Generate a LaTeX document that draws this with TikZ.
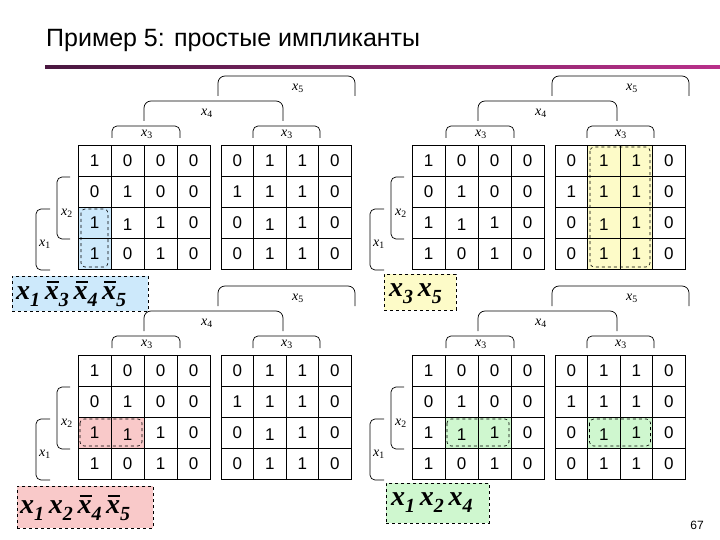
\documentclass[tikz,border=0pt]{standalone}
\usepackage{fontspec}
\setmainfont{Liberation Serif}
\newfontfamily\arial{Liberation Sans}
\begin{document}
\begin{tikzpicture}[x=1pt,y=-1pt,
  brk/.style={line width=0.7pt,rounded corners=7pt},
  cellline/.style={line width=0.8pt},
  hl/.style={dashed,line width=0.6pt,rounded corners=4pt},
  lbl/.style={font=\fontsize{14}{14}\selectfont,inner sep=0pt},
  dig/.style={font=\arial\fontsize{17}{17}\selectfont,inner sep=0pt},
  impbox/.style={draw,dashed,line width=0.6pt,anchor=north west,inner sep=0pt,font=\fontsize{28}{28}\selectfont\bfseries\itshape}]
\useasboundingbox (0,0) rectangle (720,540);
\definecolor{hblue}{HTML}{CDE9FB}
\definecolor{hyel}{HTML}{FDFBC8}
\definecolor{hpink}{HTML}{F9C9C9}
\definecolor{hgreen}{HTML}{CFF7CF}
\definecolor{tlA}{HTML}{4A1840}
\definecolor{tlB}{HTML}{B8308A}
\newcommand\xv[1]{\textit{x}\textsubscript{#1}}
\newcommand\xbv[1]{\textbf{\textit{x}}\raisebox{-0.25em}{\fontsize{20}{20}\selectfont\bfseries #1}}
\newcommand\xbb[1]{\rlap{\hspace{0.08em}\raisebox{0.62em}{\rule{0.42em}{1.6pt}}}\textbf{\textit{x}}\raisebox{-0.25em}{\fontsize{20}{20}\selectfont\bfseries #1}}
\newcommand\kmap[3]{%
\begin{scope}[shift={(#1,#2)}]
 #3
 \foreach \c in {0,...,3}{\foreach \r in {0,...,3}{
   \draw[cellline] ({78+33*\c},{145+31*\r}) rectangle ++(33,31);
   \draw[cellline] ({221+32.5*\c},{145+31*\r}) rectangle ++(32.5,31);}}
 \foreach \v [count=\i from 0] in {1,0,0,0,0,1,0,0,1,1,1,0,1,0,1,0}{
   \pgfmathtruncatemacro\r{int(\i/4)}\pgfmathtruncatemacro\c{mod(\i,4)}
   \pgfmathsetmacro\dy{(\r==2 && \c==1) ? 2 : 0}
   \node[dig] (L\i) at ({94.5+33*\c},{161+31*\r+\dy}) {\v};}
 \foreach \v [count=\i from 0] in {0,1,1,0,1,1,1,0,0,1,1,0,0,1,1,0}{
   \pgfmathtruncatemacro\r{int(\i/4)}\pgfmathtruncatemacro\c{mod(\i,4)}
   \pgfmathsetmacro\dy{(\r==2 && \c==1) ? 2 : 0}
   \node[dig] (R\i) at ({237.25+32.5*\c},{161+31*\r+\dy}) {\v};}
 \draw[brk] (218,96)--(218,76)--(355,76)--(355,96);
 \node[lbl] (l5) at (298,88) {\xv{5}};
 \draw[brk] (144,121)--(144,101)--(283,101)--(283,121);
 \node[lbl] (l4) at (207,113) {\xv{4}};
 \draw[brk,rounded corners=5pt] (112,138)--(112,126)--(180,126)--(180,138);
 \node[lbl] (l3a) at (147,134) {\xv{3}};
 \draw[brk,rounded corners=5pt] (253,138)--(253,126)--(320,126)--(320,138);
 \node[lbl] (l3b) at (287,134) {\xv{3}};
 \draw[brk,rounded corners=5pt] (70,177)--(57,177)--(57,239)--(70,239);
 \node[lbl] (l2) at (67,213) {\xv{2}};
 \draw[brk,rounded corners=5pt] (50,209)--(36,209)--(36,270)--(50,270);
 \node[lbl] (l1) at (45,244) {\xv{1}};
\end{scope}}
% title
\node[anchor=west,inner sep=0pt,font=\arial\fontsize{25}{25}\selectfont] (title) at (46,40) {Пример 5: простые импликанты};
\shade[left color=tlA,right color=tlB] (45,65.5) rectangle (720,68.5);
% maps
\kmap{0}{0}{\fill[hblue] (78,207) rectangle (111,269);
  \draw[hl] (81,209) rectangle (108,267);}
\kmap{334}{0}{\fill[hyel] (253.5,145) rectangle (318.5,269);
  \draw[hl] (256,147) rectangle (316,267);}
\kmap{0}{210}{\fill[hpink] (78,207) rectangle (144,238);
  \draw[hl] (80,209) rectangle (142,236);}
\kmap{334}{210}{\fill[hgreen] (111,207) rectangle (177,238);
  \draw[hl] (113,209) rectangle (175,236);
  \fill[hgreen] (253.5,207) rectangle (318.5,238);
  \draw[hl] (255.5,209) rectangle (316.5,236);}
% implicant boxes
\node[impbox,fill=hblue,minimum width=136,minimum height=35] (b1) at (12,276) {};
\node[anchor=west,inner sep=0pt,font=\fontsize{28}{28}\selectfont\bfseries\itshape] (t1) at (16,294) {\xbv{1}\,\xbb{3}\,\xbb{4}\,\xbb{5}};
\node[impbox,fill=hyel,minimum width=72,minimum height=36] (b2) at (384,274) {};
\node[anchor=west,inner sep=0pt,font=\fontsize{28}{28}\selectfont\bfseries\itshape] (t2) at (389,294) {\xbv{3}\,\xbv{5}};
\node[impbox,fill=hpink,minimum width=136,minimum height=42] (b3) at (17,486) {};
\node[anchor=west,inner sep=0pt,font=\fontsize{28}{28}\selectfont\bfseries\itshape] (t3) at (20,508) {\xbv{1}\,\xbv{2}\,\xbb{4}\,\xbb{5}};
\node[impbox,fill=hgreen,minimum width=103,minimum height=40] (b4) at (386,483) {};
\node[anchor=west,inner sep=0pt,font=\fontsize{28}{28}\selectfont\bfseries\itshape] (t4) at (391,503) {\xbv{1}\,\xbv{2}\,\xbv{4}};
\node[font=\arial\fontsize{12}{12}\selectfont,inner sep=0pt] (pg) at (697,525) {67};
\end{tikzpicture}
\end{document}
